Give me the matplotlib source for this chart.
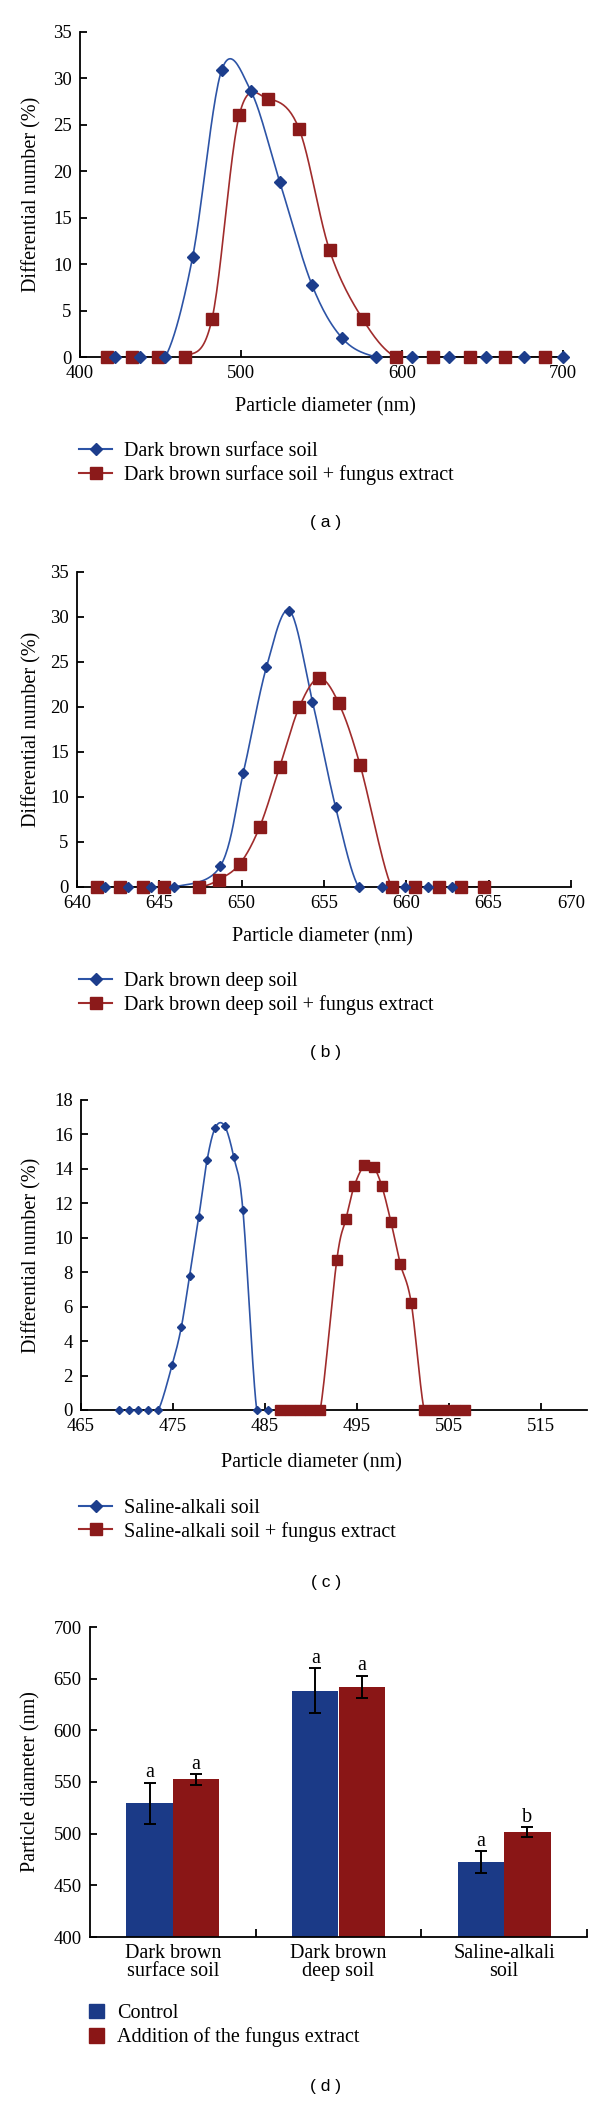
import numpy as np
import matplotlib
matplotlib.use("Agg")
import matplotlib.pyplot as plt
from matplotlib.patches import Patch
from matplotlib.lines import Line2D

plt.rcParams['font.family'] = ['Liberation Serif', 'DejaVu Serif']

# ---- data ----
# (a) dark brown surface soil
a_x_ctrl = [422, 437, 453, 470, 488, 506, 524, 544, 563, 584, 606, 629, 652, 676, 700]
a_y_ctrl = [0, 0, 0, 10.8, 30.9, 28.7, 18.9, 7.8, 2.0, 0, 0, 0, 0, 0, 0]
a_x_fung = [417, 432, 448.5, 465, 482, 499, 517, 536, 555, 575.5, 596, 619, 642, 664, 689]
a_y_fung = [0, 0, 0, 0, 4.1, 26.1, 27.8, 24.6, 11.5, 4.1, 0, 0, 0, 0, 0]

# (b) dark brown deep soil
b_x_ctrl = [641.7, 643.1, 644.5, 645.9, 648.7, 650.1, 651.5, 652.9, 654.3, 655.7, 657.1, 658.5, 659.9, 661.3, 662.8]
b_y_ctrl = [0, 0, 0, 0, 2.3, 12.7, 24.4, 30.7, 20.6, 8.9, 0, 0, 0, 0, 0]
b_x_fung = [641.2, 642.6, 644.0, 645.3, 647.4, 648.6, 649.9, 651.1, 652.3, 653.5, 654.7, 655.9, 657.2,
            659.1, 660.5, 662.0, 663.3, 664.7]
b_y_fung = [0, 0, 0, 0, 0, 0.8, 2.6, 6.7, 13.3, 20.0, 23.2, 20.4, 13.5, 0, 0, 0, 0, 0]

# (c) saline-alkali soil
c_x_ctrl = [469.1, 470.2, 471.2, 472.3, 473.4, 474.9, 475.9, 476.8, 477.8, 478.7, 479.6, 480.6, 481.6,
            482.6, 484.1, 485.3]
c_y_ctrl = [0, 0, 0, 0, 0, 2.6, 4.8, 7.8, 11.2, 14.5, 16.4, 16.5, 14.7, 11.6, 0, 0]
c_x_fung = [486.6, 487.7, 488.8, 489.9, 491.0, 492.8, 493.8, 494.7, 495.8, 496.8, 497.7, 498.7, 499.7,
            500.9, 502.3, 503.4, 504.5, 505.6, 506.7]
c_y_fung = [0, 0, 0, 0, 0, 8.7, 11.1, 13.0, 14.2, 14.1, 13.0, 10.9, 8.5, 6.2, 0, 0, 0, 0, 0]

# (d) mean particle diameter
soils = ['Dark brown\nsurface soil', 'Dark brown\ndeep soil', 'Saline-alkali\nsoil']
d_ctrl = [529.5, 638.5, 472.5]
d_ctrl_err = [20, 22, 11]
d_fung = [552.5, 642, 501.5]
d_fung_err = [5, 11, 4.5]
d_ctrl_sig = ['a', 'a', 'a']
d_fung_sig = ['a', 'a', 'b']

W, H = 600, 2103
BLUE_M, BLUE_L = '#1c3d8c', '#2d54a6'
RED_M, RED_L = '#8b1a1a', '#a02c2c'
BAR_B, BAR_R = '#1b3a87', '#8a1616'
FS = 14.5     # labels / legend
TFS = 13.5    # tick labels
TAG_FONT = ['Liberation Sans', 'DejaVu Sans']

fig = plt.figure(figsize=(W / 100, H / 100), dpi=100)


def px_axes(l, t, r, b):
    return fig.add_axes([l / W, 1 - b / H, (r - l) / W, (b - t) / H])


def ftext(x, y, s, **kw):
    fig.text(x / W, 1 - y / H, s, **kw)


def smooth(x, y, n=24):
    # Excel-like smoothed line (Bezier through the points)
    p = np.column_stack([x, y]).astype(float)
    p = np.vstack([p[0], p, p[-1]])
    t = np.linspace(0, 1, n, endpoint=False)[:, None]
    segs = []
    for i in range(1, len(p) - 2):
        p0, p1, p2, p3 = p[i - 1], p[i], p[i + 1], p[i + 2]
        c1 = p1 + (p2 - p0) / 6
        c2 = p2 - (p3 - p1) / 6
        segs.append((1 - t) ** 3 * p1 + 3 * (1 - t) ** 2 * t * c1 + 3 * (1 - t) * t ** 2 * c2 + t ** 3 * p2)
    segs.append(p[-2][None])
    s = np.vstack(segs)
    return s[:, 0], s[:, 1]


def style(ax):
    for sp in ['top', 'right']:
        ax.spines[sp].set_visible(False)
    for sp in ['left', 'bottom']:
        ax.spines[sp].set_linewidth(1.3)
    ax.tick_params(direction='in', length=5, width=1.3, labelsize=TFS, pad=6)


def line_panel(box, xc, yc, xf, yf, xlim, xticks, ylim, yticks, names, ms_d, ms_s,
               xlab_pos, leg_mid, tag, tag_y):
    ax = px_axes(*box)
    sx, sy = smooth(xc, yc)
    ax.plot(sx, sy, color=BLUE_L, lw=1.2, zorder=2)
    sx, sy = smooth(xf, yf)
    ax.plot(sx, sy, color=RED_L, lw=1.2, zorder=2)
    ax.plot(xc, yc, ls='none', marker='D', ms=ms_d, color=BLUE_M, zorder=4, clip_on=False)
    ax.plot(xf, yf, ls='none', marker='s', ms=ms_s, color=RED_M, zorder=3, clip_on=False)
    ax.set_xlim(*xlim)
    ax.set_ylim(*ylim)
    ax.set_xticks(xticks)
    ax.set_yticks(yticks)
    style(ax)
    l, t, r, b = box
    ftext(32, (t + b) / 2, 'Differential number (%)', rotation=90, ha='center', va='center', fontsize=FS)
    ftext(xlab_pos[0], xlab_pos[1], 'Particle diameter (nm)', ha='center', va='center', fontsize=FS)
    handles = [Line2D([], [], color=BLUE_L, lw=1.5, marker='D', ms=6, mfc=BLUE_M, mec=BLUE_M),
               Line2D([], [], color=RED_L, lw=1.5, marker='s', ms=8, mfc=RED_M, mec=RED_M)]
    fig.legend(handles, names, loc='center left', bbox_to_anchor=(79 / W, 1 - leg_mid / H),
               frameon=False, fontsize=FS, handlelength=1.65, handletextpad=0.6,
               labelspacing=0.2, borderpad=0, borderaxespad=0)
    ftext(326, tag_y, tag, ha='center', va='center', fontsize=12.5, family=TAG_FONT)
    return ax


line_panel((80, 32, 563, 357), a_x_ctrl, a_y_ctrl, a_x_fung, a_y_fung,
           (400, 700), [400, 500, 600, 700], (0, 35), range(0, 36, 5),
           ['Dark brown surface soil', 'Dark brown surface soil + fungus extract'],
           6, 8.4, (325, 407), 463.5, '( a )', 523)

line_panel((77, 572, 571, 887), b_x_ctrl, b_y_ctrl, b_x_fung, b_y_fung,
           (640, 670), range(640, 671, 5), (0, 35), range(0, 36, 5),
           ['Dark brown deep soil', 'Dark brown deep soil + fungus extract'],
           5.6, 8, (322, 937), 993.5, '( b )', 1053)

line_panel((81, 1100, 587, 1410), c_x_ctrl, c_y_ctrl, c_x_fung, c_y_fung,
           (465, 520), range(465, 516, 10), (0, 18), range(0, 19, 2),
           ['Saline-alkali soil', 'Saline-alkali soil + fungus extract'],
           4.5, 7, (311, 1463), 1520, '( c )', 1582)

# ---- (d) bars ----
ax = px_axes(90, 1627, 587, 1937)
pos = np.arange(len(soils))
bw = 0.28
ax.bar(pos - bw / 2, [v - 400 for v in d_ctrl], bw, bottom=400, color=BAR_B, zorder=2)
ax.bar(pos + bw / 2, [v - 400 for v in d_fung], bw, bottom=400, color=BAR_R, zorder=2)
ax.errorbar(pos - bw / 2, d_ctrl, yerr=d_ctrl_err, fmt='none', ecolor='black', elinewidth=1.4,
            capsize=4, capthick=1.4, zorder=3)
ax.errorbar(pos + bw / 2, d_fung, yerr=d_fung_err, fmt='none', ecolor='black', elinewidth=1.4,
            capsize=4, capthick=1.4, zorder=3)
for i in range(len(soils)):
    ax.text(pos[i] - bw / 2, d_ctrl[i] + d_ctrl_err[i] + 5, d_ctrl_sig[i], ha='center', va='baseline',
            fontsize=FS)
    ax.text(pos[i] + bw / 2, d_fung[i] + d_fung_err[i] + 5, d_fung_sig[i], ha='center', va='baseline',
            fontsize=FS)
ax.set_xlim(-0.5, 2.5)
ax.set_ylim(400, 700)
ax.set_yticks(range(400, 701, 50))
ax.set_xticks(pos)
ax.set_xticklabels(soils, fontsize=FS, linespacing=0.9)
ax.set_xticks([0.5, 1.5, 2.5], minor=True)
style(ax)
ax.tick_params(axis='x', which='major', length=0, pad=5, labelsize=FS)
ax.tick_params(axis='x', which='minor', direction='in', length=6, width=1.3)
ftext(31, 1782, 'Particle diameter (nm)', rotation=90, ha='center', va='center', fontsize=FS)
fig.legend([Patch(color=BAR_B), Patch(color=BAR_R)], ['Control', 'Addition of the fungus extract'],
           loc='center left', bbox_to_anchor=(89 / W, 1 - 2025.5 / H), frameon=False, fontsize=FS,
           handlelength=0.75, handleheight=0.75, handletextpad=0.65, labelspacing=0.22,
           borderpad=0, borderaxespad=0)
ftext(326, 2087, '( d )', ha='center', va='center', fontsize=12.5, family=TAG_FONT)

fig.savefig('out.png', dpi=100)
